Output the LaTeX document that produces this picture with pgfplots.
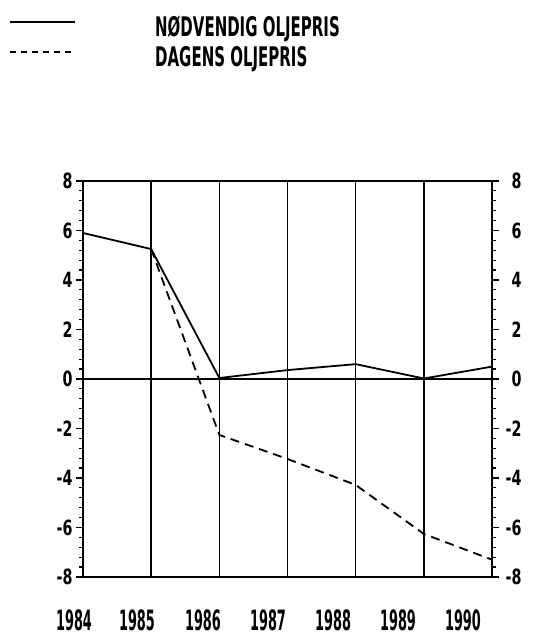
\documentclass[border=0pt]{standalone}
\usepackage{fontspec}
\setmainfont{DejaVu Sans}
\newfontfamily\legfont{DejaVu Sans Bold}[FakeStretch=0.555]
\newfontfamily\yearfont{DejaVu Sans Bold}[FakeStretch=0.46]
\newfontfamily\ylab{DejaVu Sans Bold}[FakeStretch=0.68]
\usepackage{pgfplots}
\pgfplotsset{compat=1.18}

\begin{document}
\begin{tikzpicture}
\path[use as bounding box] (0pt,0pt) rectangle (543pt,639pt);

% legend, drawn by hand at the top left
\draw[line width=1.5pt] (10pt,617pt) -- (75pt,617pt);
\draw[line width=1.5pt, dash pattern=on 6pt off 5pt] (10pt,587pt) -- (75pt,587pt);
\node[anchor=base west, inner sep=0pt, font=\legfont\fontsize{27}{27}\selectfont] at (155pt,602pt) {NØDVENDIG OLJEPRIS};
\node[anchor=base west, inner sep=0pt, font=\legfont\fontsize{27}{27}\selectfont] at (155pt,572pt) {DAGENS OLJEPRIS};

% === main axis ===
\begin{axis}[
  at={(83pt,62pt)}, anchor=south west,
  scale only axis, width=409pt, height=396pt,
  xmin=1984, xmax=1990, ymin=-8, ymax=8,
  xtick={1984,1985,...,1990}, xticklabels={},
  xtick style={draw=none},
  xmajorgrids,
  ytick={-8,-6,...,8},
  yticklabels={-8,-6,-4,-2,0,2,4,6,8},
  minor y tick num=4,
  tick align=outside,
  major tick length=7pt, minor tick length=4pt,
  ytick pos=both,
  yticklabel pos=left,
  yticklabel style={font=\ylab\fontsize{21}{21}\selectfont, xshift=0pt},
  extra y ticks={0}, extra y tick labels={},
  extra y tick style={grid=major, tick style={draw=none}},
  grid style={black, line width=1.6pt},
  axis line style={line width=1.8pt},
  every tick/.style={black, line width=1.2pt},
  clip=false,
]
% solid line: nødvendig oljepris
\addplot[black, line width=1.8pt] coordinates {
  (1984,5.90) (1985,5.25) (1986,0.04) (1987,0.36) (1988,0.60) (1989,0.02) (1990,0.50)
};
% dashed line: dagens oljepris
\addplot[black, line width=1.8pt, dash pattern=on 9pt off 6pt] coordinates {
  (1985,5.25) (1986,-2.26) (1987,-3.23) (1988,-4.28) (1989,-6.26) (1990,-7.30)
};

% year labels (set slightly left of the grid lines, as in the source)
\node[anchor=base, inner sep=0pt, font=\yearfont\fontsize{28}{28}\selectfont, yshift=-53pt] at (axis cs:1983.868,-8) {1984};
\node[anchor=base, inner sep=0pt, font=\yearfont\fontsize{28}{28}\selectfont, yshift=-53pt] at (axis cs:1984.792,-8) {1985};
\node[anchor=base, inner sep=0pt, font=\yearfont\fontsize{28}{28}\selectfont, yshift=-53pt] at (axis cs:1985.760,-8) {1986};
\node[anchor=base, inner sep=0pt, font=\yearfont\fontsize{28}{28}\selectfont, yshift=-53pt] at (axis cs:1986.714,-8) {1987};
\node[anchor=base, inner sep=0pt, font=\yearfont\fontsize{28}{28}\selectfont, yshift=-53pt] at (axis cs:1987.668,-8) {1988};
\node[anchor=base, inner sep=0pt, font=\yearfont\fontsize{28}{28}\selectfont, yshift=-53pt] at (axis cs:1988.621,-8) {1989};
\node[anchor=base, inner sep=0pt, font=\yearfont\fontsize{28}{28}\selectfont, yshift=-53pt] at (axis cs:1989.574,-8) {1990};
\end{axis}

% === right-hand labels ===
\begin{axis}[
  at={(83pt,62pt)}, anchor=south west,
  scale only axis, width=409pt, height=396pt,
  xmin=1984, xmax=1990, ymin=-8, ymax=8,
  hide x axis,
  axis y line*=right,
  y axis line style={draw=none},
  ytick={-8,-6,...,8},
  yticklabels={-8,-6,-4,-2,0,2,4,6,8},
  ytick style={draw=none},
  yticklabel style={font=\ylab\fontsize{21}{21}\selectfont, anchor=east, xshift=33pt},
]
\end{axis}
\end{tikzpicture}
\end{document}
